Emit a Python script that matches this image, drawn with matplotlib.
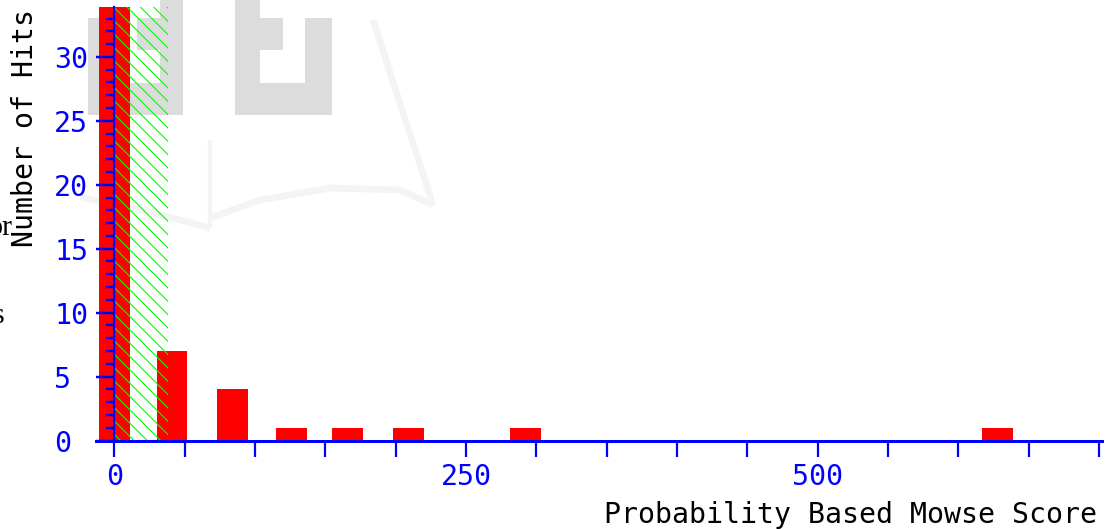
"""Mascot-style Mowse score histogram (headless)."""

import matplotlib

matplotlib.use("Agg")
import matplotlib.pyplot as plt  # noqa: E402
from matplotlib.patches import Rectangle  # noqa: E402
from matplotlib.lines import Line2D  # noqa: E402
from matplotlib.ticker import FixedLocator, MultipleLocator, FuncFormatter  # noqa: E402

# histogram: bin centre (score) and number of hits in that bin
score_bins = [0, 41, 84, 126, 166, 209, 292, 628]
hit_counts = [40, 7, 4, 1, 1, 1, 1, 1]  # first bin runs off the top
threshold = 38  # below this score the hits are not significant (green hatch)
x_tick_values = list(range(0, 701, 50))
x_tick_labels = {0: "0", 250: "250", 500: "500"}
y_tick_values = [0, 5, 10, 15, 20, 25, 30]

BLUE = "#0000ff"
RED = "#ff0000"
GREEN = "#00ff00"
MONO = "DejaVu Sans Mono"
FS = 25.4
DPI = 80
W, H = 1111, 529

plt.rcParams["font.family"] = MONO
plt.rcParams["hatch.linewidth"] = 1.0

fig = plt.figure(figsize=(W / DPI, H / DPI), dpi=DPI)


def px_rect(x0, y0, x1, y1, color):
    """Rectangle in figure pixel coords (origin top-left), drawn behind the axes."""
    r = Rectangle((x0 / W, 1 - y1 / H), (x1 - x0) / W, (y1 - y0) / H,
                  transform=fig.transFigure, facecolor=color, edgecolor="none", zorder=-2)
    fig.add_artist(r)


def px_line(xs, ys, color, lw):
    ln = Line2D([x / W for x in xs], [1 - y / H for y in ys], transform=fig.transFigure,
                color=color, lw=lw, zorder=-3, solid_capstyle="butt")
    fig.add_artist(ln)


# faint logo watermark behind the chart
WM = "#dcdcdc"
px_rect(88, 18, 183, 115, WM)
px_rect(160, 0, 183, 18, WM)
px_rect(115, 50, 160, 83, "white")
px_rect(115, 18, 137, 50, "white")
px_rect(235, 18, 332, 115, WM)
px_rect(235, 0, 260, 18, WM)
px_rect(283, 18, 305, 50, "white")
px_rect(260, 50, 305, 83, "white")
FAINT = "#f4f4f4"
px_line([373, 433], [20, 205], FAINT, 6)
px_line([80, 150, 210], [197, 212, 228], FAINT, 6)
px_line([210, 260, 330, 400, 433], [218, 200, 188, 190, 205], FAINT, 6)
px_line([210, 210], [140, 228], FAINT, 4)

# clipped page text at the left edge
fig.text(13 / W, 1 - 235 / H, "or", ha="right", va="baseline", fontsize=27,
         family="Liberation Serif", color="black")
fig.text(4 / W, 1 - 323 / H, "s", ha="right", va="baseline", fontsize=27,
         family="Liberation Serif", color="black")

ax = fig.add_axes([96 / W, 1 - 440.5 / H, (1102 - 96) / W, (440.5 - 7) / H])
ax.patch.set_facecolor("none")

ax.bar(score_bins, hit_counts, width=22, color=RED, zorder=1)
ax.axvspan(0, threshold, facecolor="none", edgecolor=GREEN, hatch="\\\\", lw=0, zorder=2)

ax.set_xlim(-13, 702)
ax.set_ylim(0, 33.9)
ax.set_axisbelow(False)

for side in ("top", "right"):
    ax.spines[side].set_visible(False)
ax.spines["left"].set_position(("data", 0))
ax.spines["left"].set_color(BLUE)
ax.spines["left"].set_linewidth(2.0)
ax.spines["bottom"].set_color(BLUE)
ax.spines["bottom"].set_linewidth(2.7)

ax.xaxis.set_major_locator(FixedLocator(x_tick_values))
ax.xaxis.set_major_formatter(FuncFormatter(lambda v, p: x_tick_labels.get(int(round(v)), "")))
ax.yaxis.set_major_locator(FixedLocator(y_tick_values))
ax.yaxis.set_minor_locator(MultipleLocator(1))

ax.tick_params(axis="x", length=14, width=2, color=BLUE, labelcolor=BLUE,
               labelsize=FS, pad=6)
ax.tick_params(axis="y", which="major", length=16, width=2.2, color=BLUE,
               labelcolor=BLUE, labelsize=FS, pad=38)
ax.tick_params(axis="y", which="minor", length=7, width=2.2, color=BLUE)
for lab in ax.get_yticklabels():
    lab.set_horizontalalignment("left")

fig.text(25 / W, 1 - 128 / H, "Number of Hits", rotation=90, ha="center", va="center",
         fontsize=FS, color="black")
fig.text(1097 / W, 1 - 523 / H, "Probability Based Mowse Score", ha="right",
         va="baseline", fontsize=FS, color="black")

fig.savefig("out.png", dpi=DPI)
